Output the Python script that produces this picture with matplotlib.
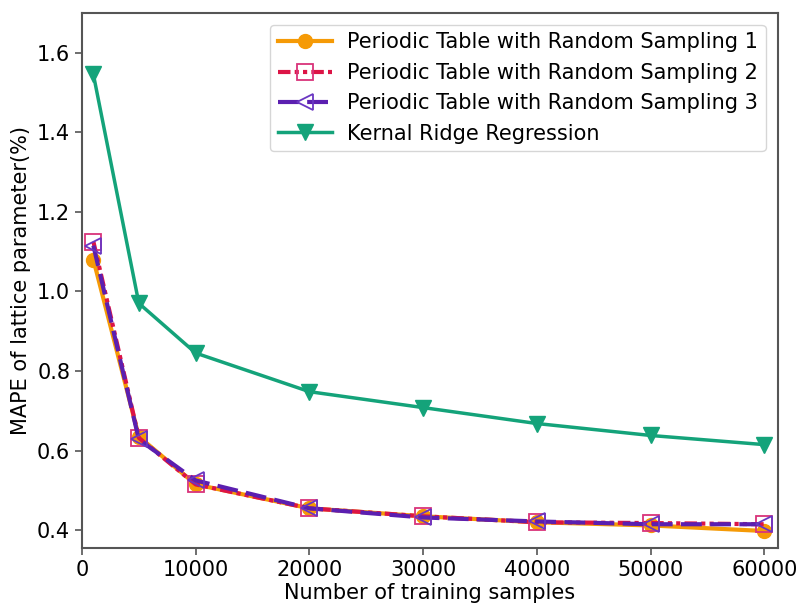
import matplotlib
matplotlib.use("Agg")
import matplotlib.pyplot as plt

samples = [1000, 5000, 10000, 20000, 30000, 40000, 50000, 60000]
pt1 = [1.08, 0.635, 0.515, 0.455, 0.435, 0.420, 0.412, 0.398]
pt2 = [1.125, 0.632, 0.515, 0.455, 0.435, 0.420, 0.418, 0.415]
pt3 = [1.115, 0.628, 0.525, 0.455, 0.432, 0.422, 0.415, 0.415]
krr = [1.545, 0.970, 0.845, 0.748, 0.708, 0.668, 0.638, 0.615]

labels = ["Periodic Table with Random Sampling 1",
          "Periodic Table with Random Sampling 2",
          "Periodic Table with Random Sampling 3",
          "Kernal Ridge Regression"]

plt.rcParams['font.family'] = ['DejaVu Sans']
fig = plt.figure(figsize=(8, 6.05), dpi=100)
ax = fig.add_axes([0.1025, 0.094, 0.87, 0.885])

ax.plot(samples, pt1, color='#f59a06', lw=3, marker='o', ms=10, label=labels[0])
ax.plot(samples, pt2, color='#dc1446', lw=3, ls=(0, (3, 1, 1, 1, 1, 1)), marker='s', ms=11,
        mfc='none', mec='#d9337a', mew=1.3, label=labels[1])
ax.plot(samples, pt3, color='#5b1fb0', lw=3, ls=(0, (5, 2)), marker='<', ms=12,
        mfc='none', mec='#6a36c2', mew=1.3, label=labels[2])
ax.plot(samples, krr, color='#14a37a', lw=2.5, marker='v', ms=11, label=labels[3])

ax.set_xlim(0, 61200)
ax.set_ylim(0.355, 1.70)
ax.set_xticks([0, 10000, 20000, 30000, 40000, 50000, 60000])
ax.set_yticks([0.4, 0.6, 0.8, 1.0, 1.2, 1.4, 1.6])
ax.tick_params(labelsize=15, length=5, width=1.2, color='#555555')
for s in ax.spines.values():
    s.set_color('#555555')
    s.set_linewidth(1.5)
ax.set_xlabel("Number of training samples", fontsize=15, labelpad=2)
ax.set_ylabel("MAPE of lattice parameter(%)", fontsize=15)
ax.legend(loc='upper right', fontsize=15, handlelength=2.6, handletextpad=0.75,
          borderaxespad=0.6, borderpad=0.35, labelspacing=0.5)
fig.savefig("out.png", dpi=100)
